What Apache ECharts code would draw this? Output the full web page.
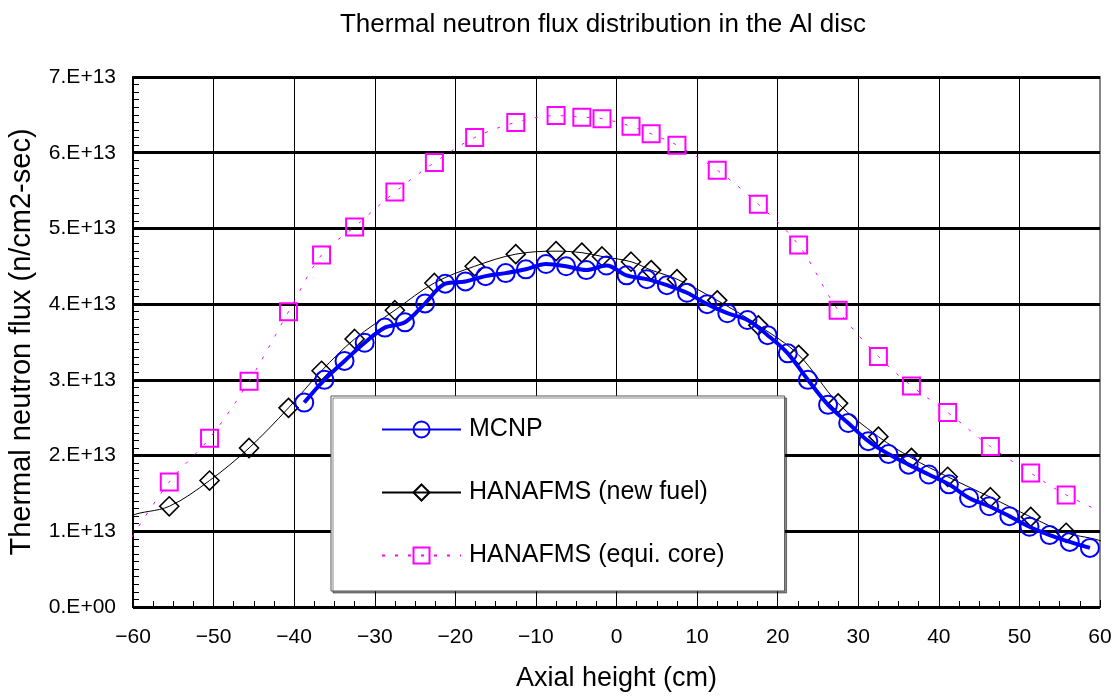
<!DOCTYPE html>
<html>
<head>
<meta charset="utf-8">
<title>Thermal neutron flux distribution in the Al disc</title>
<script src="https://cdn.jsdelivr.net/npm/echarts@6/dist/echarts.min.js"></script>
<style>
  html, body { margin: 0; padding: 0; background: #fff; }
  #chart { width: 1117px; height: 698px; }
</style>
</head>
<body>
<div id="chart"></div>
<script>
// axial height (cm) of the MCNP points
const mcnpX = [-38.75, -36.25, -33.75, -31.25, -28.75, -26.25, -23.75, -21.25, -18.75, -16.25,
  -13.75, -11.25, -8.75, -6.25, -3.75, -1.25, 1.25, 3.75, 6.25, 8.75,
  11.25, 13.75, 16.25, 18.75, 21.25, 23.75, 26.25, 28.75, 31.25, 33.75,
  36.25, 38.75, 41.25, 43.75, 46.25, 48.75, 51.25, 53.75, 56.25, 58.75]
// flux in units of 1E13 n/cm2-sec
const mcnpFlux = [2.70, 3.00, 3.25, 3.49, 3.69, 3.76, 4.01, 4.27, 4.30, 4.37,
  4.41, 4.46, 4.53, 4.50, 4.45, 4.51, 4.38, 4.33, 4.25, 4.15,
  4.00, 3.88, 3.79, 3.59, 3.35, 3.00, 2.67, 2.43, 2.19, 2.02,
  1.88, 1.75, 1.62, 1.44, 1.33, 1.20, 1.06, 0.95, 0.86, 0.78]

// HANAFMS node heights (cm)
const hanaX = [-55.5, -50.5, -45.6, -40.7, -36.6, -32.5, -27.5, -22.6, -17.6, -12.5,
  -7.5, -4.3, -1.8, 1.8, 4.3, 7.5, 12.5, 17.6, 22.6, 27.5,
  32.5, 36.6, 41.1, 46.4, 51.4, 55.8]
const newFuelFlux = [1.33, 1.67, 2.10, 2.63, 3.12, 3.54, 3.92, 4.28, 4.50, 4.66,
  4.70, 4.68, 4.63, 4.56, 4.45, 4.33, 4.05, 3.72, 3.33, 2.69,
  2.25, 1.97, 1.72, 1.45, 1.19, 0.98]
const equiCoreFlux = [1.65, 2.23, 2.98, 3.90, 4.65, 5.02, 5.48, 5.87, 6.20, 6.40,
  6.49, 6.47, 6.45, 6.35, 6.25, 6.10, 5.77, 5.32, 4.78, 3.92,
  3.31, 2.92, 2.57, 2.12, 1.77, 1.48]

// curve ends that run past the plot edge (no marker)
const newFuelTailL = [[-61.2, 1.05], [-60.3, 1.20]]
const newFuelTailR = [[60.4, 0.86], [61.5, 0.72]]
const equiCoreTailL = [[-61.0, 0.78]]
const equiCoreTailR = [[60.8, 1.23]]

const yTicks = ['0.E+00', '1.E+13', '2.E+13', '3.E+13', '4.E+13', '5.E+13', '6.E+13', '7.E+13']

const font = 'Liberation Sans, Arial, sans-serif'

const pairs = (xs, ys) => xs.map((x, i) => [x, ys[i]])
const tail = arr => arr.map(p => ({ value: p, symbol: 'none' }))

const myChart = echarts.init(document.getElementById('chart'), null, { renderer: 'canvas' })

const option = {
  animation: false,
  backgroundColor: '#fff',
  textStyle: { fontFamily: font, color: '#000' },
  title: {
    text: 'Thermal neutron flux distribution in the Al disc',
    left: 598,
    top: 7,
    textAlign: 'center',
    textStyle: { fontFamily: font, fontSize: 26, fontWeight: 'normal', color: '#000' }
  },
  legend: {
    orient: 'vertical',
    left: 331,
    top: 396,
    padding: [21, 60, 23, 50],
    itemWidth: 79,
    itemHeight: 20,
    itemGap: 38,
    backgroundColor: '#fff',
    borderColor: '#555',
    borderWidth: 1,
    shadowColor: 'rgba(0,0,0,0.45)',
    shadowOffsetX: 2,
    shadowOffsetY: 2,
    textStyle: { fontFamily: font, fontSize: 25, color: '#000', padding: [0, 0, 0, 3] },
    data: ['MCNP', 'HANAFMS (new fuel)', 'HANAFMS (equi. core)']
  },
  grid: {
    left: 133,
    right: 17,
    top: 77,
    bottom: 91,
    outerBoundsMode: 'none',
    show: true,
    borderColor: '#888',
    borderWidth: 2
  },
  xAxis: {
    type: 'value',
    min: -60,
    max: 60,
    interval: 10,
    name: 'Axial height (cm)',
    nameLocation: 'middle',
    nameGap: 58,
    nameTextStyle: { fontFamily: font, fontSize: 27, color: '#000' },
    axisLine: { onZero: false, lineStyle: { color: '#000', width: 2 } },
    axisTick: { inside: true, length: 7, lineStyle: { color: '#000' } },
    minorTick: { show: true, splitNumber: 4, length: 6, lineStyle: { color: '#000' } },
    axisLabel: {
      margin: 20,
      fontFamily: font,
      fontSize: 21,
      color: '#000',
      formatter: v => String(v).replace('-', '\u2212')
    },
    splitLine: { show: true, showMaxLine: false, lineStyle: { color: '#000', width: 1 } }
  },
  yAxis: {
    type: 'value',
    min: 0,
    max: 7,
    interval: 1,
    name: 'Thermal neutron flux (n/cm2-sec)',
    nameLocation: 'middle',
    nameGap: 97,
    nameTextStyle: { fontFamily: font, fontSize: 29, color: '#000' },
    axisLine: { show: true, onZero: false, lineStyle: { color: '#000', width: 2 } },
    axisTick: { inside: true, length: 9, lineStyle: { color: '#000' } },
    minorTick: { show: true, splitNumber: 10, length: 6, lineStyle: { color: '#000' } },
    axisLabel: {
      margin: 17,
      fontFamily: font,
      fontSize: 21,
      color: '#000',
      formatter: v => yTicks[v]
    },
    splitLine: { show: true, lineStyle: { color: '#000', width: 3 } }
  },
  series: [
    {
      name: 'HANAFMS (equi. core)',
      type: 'line',
      clip: false,
      smooth: 0.35,
      symbol: 'rect',
      symbolSize: 17,
      itemStyle: { color: 'rgba(0,0,0,0)', borderColor: '#FF00FF', borderWidth: 2 },
      lineStyle: { color: '#FF00FF', width: 1, type: [3, 10] },
      data: [...tail(equiCoreTailL), ...pairs(hanaX, equiCoreFlux), ...tail(equiCoreTailR)],
      z: 2
    },
    {
      name: 'HANAFMS (new fuel)',
      type: 'line',
      clip: false,
      smooth: 0.35,
      symbol: 'diamond',
      symbolSize: [19, 19],
      itemStyle: { color: 'rgba(0,0,0,0)', borderColor: '#000', borderWidth: 1.6 },
      lineStyle: { color: '#000', width: 1 },
      data: [...tail(newFuelTailL), ...pairs(hanaX, newFuelFlux), ...tail(newFuelTailR)],
      z: 3
    },
    {
      name: 'MCNP',
      type: 'line',
      smooth: 0.35,
      symbol: 'circle',
      symbolSize: 18,
      itemStyle: { color: 'rgba(0,0,0,0)', borderColor: '#0000FF', borderWidth: 2 },
      lineStyle: { color: '#0000FF', width: 4 },
      data: pairs(mcnpX, mcnpFlux),
      z: 4
    }
  ]
}

myChart.setOption(option)

window.onresize = function () {
  myChart.resize()
}
</script>
</body>
</html>
